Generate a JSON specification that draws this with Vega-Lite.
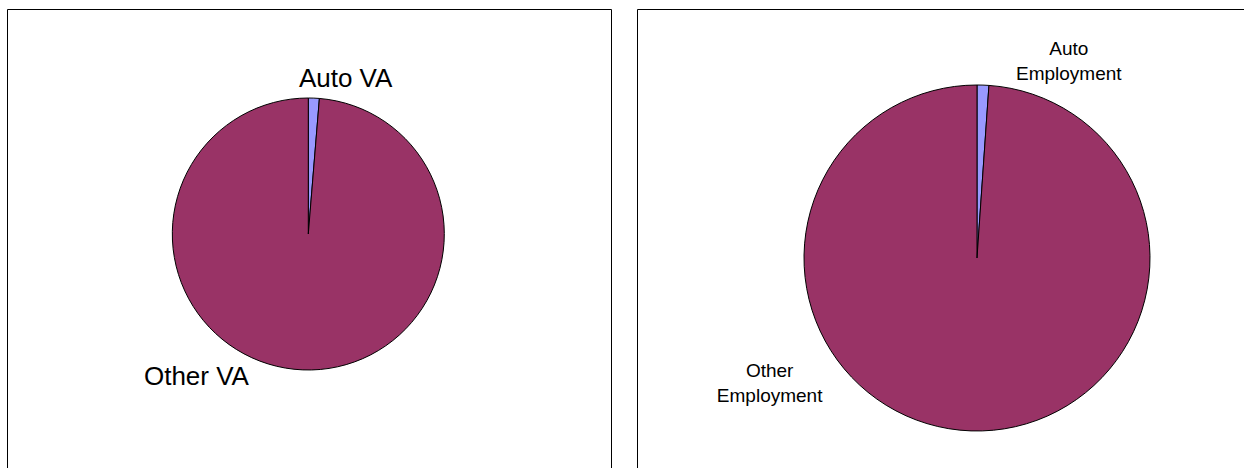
{
  "$schema": "https://vega.github.io/schema/vega-lite/v6.json",
  "padding": {"left": 6, "top": 8, "right": 0, "bottom": 0},
  "spacing": 24,
  "config": {
    "view": {"stroke": "#000000", "strokeWidth": 1},
    "text": {"font": "Liberation Sans", "color": "#000000"}
  },
  "datasets": {
    "va": [
      {"kind": "Auto", "label": "Auto VA", "value": 1.3},
      {"kind": "Other", "label": "Other VA", "value": 98.7}
    ],
    "emp": [
      {"kind": "Auto", "label": "Auto\nEmployment", "value": 1.1},
      {"kind": "Other", "label": "Other\nEmployment", "value": 98.9}
    ]
  },
  "resolve": {"scale": {"theta": "independent", "color": "independent"}},
  "hconcat": [
    {
      "width": 604,
      "height": 462,
      "data": {"name": "va"},
      "layer": [
        {
          "mark": {"type": "arc", "radius": 136, "stroke": "#000000", "strokeWidth": 1},
          "encoding": {
            "theta": {"field": "value", "type": "quantitative", "stack": true},
            "order": {"field": "kind", "type": "ordinal", "sort": "ascending"},
            "x": {"value": 301.3},
            "y": {"value": 225},
            "color": {"field": "kind", "type": "nominal", "scale": {"domain": ["Auto", "Other"], "range": ["#9999FF", "#993366"]}, "legend": null}
          }
        },
        {
          "mark": {"type": "text", "fontSize": 26, "align": "center", "baseline": "middle", "dx": 31},
          "encoding": {
            "theta": {"field": "value", "type": "quantitative", "stack": true},
            "order": {"field": "kind", "type": "ordinal", "sort": "ascending"},
            "x": {"value": 301.3},
            "y": {"value": 225},
            "radius": {"value": 155},
            "text": {"field": "label"},
            "opacity": {"condition": {"test": "datum.kind === 'Auto'", "value": 1}, "value": 0}
          }
        },
        {
          "mark": {"type": "text", "fontSize": 26, "align": "center", "baseline": "middle", "dx": -106},
          "encoding": {
            "theta": {"field": "value", "type": "quantitative", "stack": true},
            "order": {"field": "kind", "type": "ordinal", "sort": "ascending"},
            "x": {"value": 301.3},
            "y": {"value": 225},
            "radius": {"value": 143},
            "text": {"field": "label"},
            "opacity": {"condition": {"test": "datum.kind === 'Other'", "value": 1}, "value": 0}
          }
        }
      ]
    },
    {
      "width": 610,
      "height": 462,
      "data": {"name": "emp"},
      "layer": [
        {
          "mark": {"type": "arc", "radius": 173, "stroke": "#000000", "strokeWidth": 1},
          "encoding": {
            "theta": {"field": "value", "type": "quantitative", "stack": true},
            "order": {"field": "kind", "type": "ordinal", "sort": "ascending"},
            "x": {"value": 340},
            "y": {"value": 249},
            "color": {"field": "kind", "type": "nominal", "scale": {"domain": ["Auto", "Other"], "range": ["#9999FF", "#993366"]}, "legend": null}
          }
        },
        {
          "mark": {"type": "text", "fontSize": 19, "align": "center", "baseline": "middle", "lineBreak": "\n", "lineHeight": 25, "dx": 85, "dy": -13},
          "encoding": {
            "theta": {"field": "value", "type": "quantitative", "stack": true},
            "order": {"field": "kind", "type": "ordinal", "sort": "ascending"},
            "x": {"value": 340},
            "y": {"value": 249},
            "radius": {"value": 196.5},
            "text": {"field": "label"},
            "opacity": {"condition": {"test": "datum.kind === 'Auto'", "value": 1}, "value": 0}
          }
        },
        {
          "mark": {"type": "text", "fontSize": 19, "align": "center", "baseline": "middle", "lineBreak": "\n", "lineHeight": 25, "dx": -203, "dy": -13},
          "encoding": {
            "theta": {"field": "value", "type": "quantitative", "stack": true},
            "order": {"field": "kind", "type": "ordinal", "sort": "ascending"},
            "x": {"value": 340},
            "y": {"value": 249},
            "radius": {"value": 126},
            "text": {"field": "label"},
            "opacity": {"condition": {"test": "datum.kind === 'Other'", "value": 1}, "value": 0}
          }
        }
      ]
    }
  ]
}
